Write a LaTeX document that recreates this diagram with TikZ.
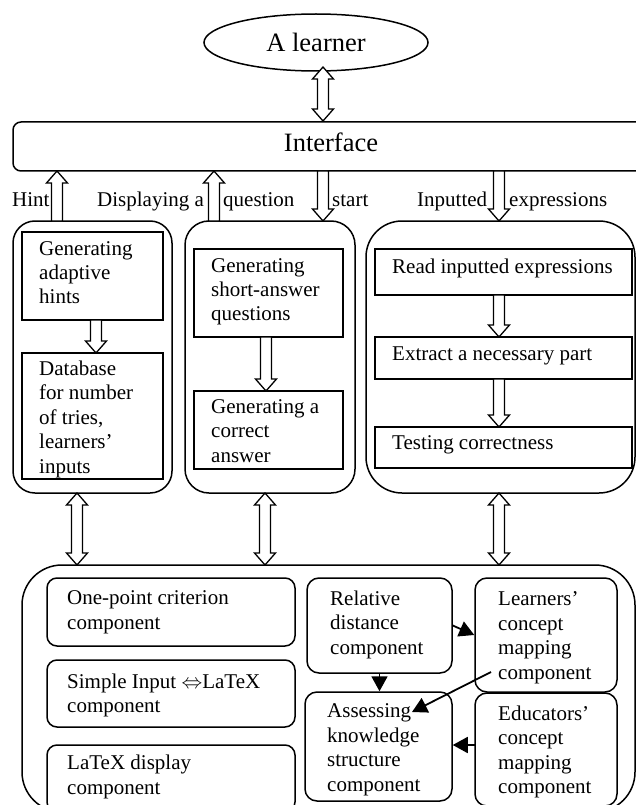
\documentclass[tikz,border=0pt]{standalone}
\usepackage{fontspec}
\setmainfont{Liberation Serif}
\usetikzlibrary{shapes.geometric,arrows.meta,calc,fit}
\newcommand\blkone[2]{%
  \draw[blk] let \p1=(#1), \p2=(#2), \n1={sign(\y2-\y1)} in
    ({\x1-5.5pt},\y1) -- ({\x1-5.5pt},{\y2-(\n1)*12pt}) -- ({\x1-10.5pt},{\y2-(\n1)*12pt})
    -- (\x1,\y2) -- ({\x1+10.5pt},{\y2-(\n1)*12pt}) -- ({\x1+5.5pt},{\y2-(\n1)*12pt})
    -- ({\x1+5.5pt},\y1) -- cycle;}
\newcommand\blktwo[2]{%
  \draw[blk] let \p1=(#1), \p2=(#2), \n1={sign(\y2-\y1)} in
    (\x1,\y1) -- ({\x1+10.5pt},{\y1+(\n1)*12pt}) -- ({\x1+5.5pt},{\y1+(\n1)*12pt})
    -- ({\x1+5.5pt},{\y2-(\n1)*12pt}) -- ({\x1+10.5pt},{\y2-(\n1)*12pt}) -- (\x1,\y2)
    -- ({\x1-10.5pt},{\y2-(\n1)*12pt}) -- ({\x1-5.5pt},{\y2-(\n1)*12pt})
    -- ({\x1-5.5pt},{\y1+(\n1)*12pt}) -- ({\x1-10.5pt},{\y1+(\n1)*12pt}) -- cycle;}
\begin{document}
\begin{tikzpicture}[x=1pt,y=-1pt,
  sq/.style={draw,line width=1.5pt,inner sep=0pt},
  rd/.style={sq,rounded corners=#1},
  txt/.style={font=\fontsize{21}{24}\selectfont,align=left,inner sep=0pt,anchor=base west},
  txtb/.style={font=\fontsize{21}{24.5}\selectfont,align=left,inner sep=0pt,anchor=base west},
  blk/.style={draw,fill=white,line width=1.3pt,line join=miter},
  arr/.style={line width=1.8pt,-{Triangle[length=15pt,width=16pt]}}]
\useasboundingbox (0,0) rectangle (636,805);
\clip (0,0) rectangle (636,805);

% top
\node[ellipse,draw,line width=1.5pt,minimum width=224pt,minimum height=57pt,inner sep=0pt,
  font=\fontsize{26.5}{30}\selectfont] (learner) at (316,42.5) {A learner};
\node[rd=8pt,fit={(13,122) (680,171)}] (iface) {};
\node[font=\fontsize{26.5}{30}\selectfont,inner sep=0pt,anchor=base] (ifacet) at (331,152) {Interface};

% three middle groups
\node[rd=22pt,fit={(13,221) (172,493)}] (box1) {};
\node[rd=24pt,fit={(185,221) (355,493)}] (box2) {};
\node[rd=36pt,fit={(366,221) (635,493)}] (box3) {};

\node[sq,fit={(22,232) (163,320)}] (a1) {};
\node[sq,fit={(22,353) (163,479)}] (a2) {};
\node[sq,fit={(194,249) (343,337)}] (b1) {};
\node[sq,fit={(194,391) (343,469)}] (b2) {};
\node[sq,fit={(375,249) (632,295)}] (c1) {};
\node[sq,fit={(375,337) (632,379)}] (c2) {};
\node[sq,fit={(375,427) (632,468)}] (c3) {};

% bottom group
\node[rd=40pt,fit={(22,565) (635,812)}] (bot) {};
\node[rd=10pt,fit={(47,578) (295,646)}] (p1) {};
\node[rd=10pt,fit={(47,660) (295,727)}] (p2) {};
\node[rd=10pt,fit={(47,745) (295,812)}] (p3) {};
\node[rd=12pt,fit={(307,578) (452,673)}] (rel) {};
\node[rd=12pt,fit={(475,578) (617,692)}] (lrn) {};
\node[rd=12pt,fit={(305,692) (452,801)}] (ass) {};
\node[rd=12pt,fit={(475,693) (617,806)}] (edu) {};

% block arrows
\coordinate (l1) at (323,67);  \coordinate (l2) at (323,121);
\blktwo{l1}{l2}
\coordinate (h1) at (57,221);  \coordinate (h2) at (57,171);
\blkone{h1}{h2}
\coordinate (d1) at (214,221); \coordinate (d2) at (214,171);
\blkone{d1}{d2}
\coordinate (s1) at (323,171); \coordinate (s2) at (323,221);
\blkone{s1}{s2}
\coordinate (i1) at (499,171); \coordinate (i2) at (499,221);
\blkone{i1}{i2}
\coordinate (a1s) at (96,320);  \coordinate (a2n) at (96,353);
\blkone{a1s}{a2n}
\coordinate (b1s) at (266,337); \coordinate (b2n) at (266,391);
\blkone{b1s}{b2n}
\coordinate (c1s) at (499,295); \coordinate (c2n) at (499,337);
\blkone{c1s}{c2n}
\coordinate (c2s) at (499,379); \coordinate (c3n) at (499,427);
\blkone{c2s}{c3n}
\coordinate (v1a) at (77,493);  \coordinate (v1b) at (77,565);
\blktwo{v1a}{v1b}
\coordinate (v2a) at (265,493); \coordinate (v2b) at (265,565);
\blktwo{v2a}{v2b}
\coordinate (v3a) at (499,493); \coordinate (v3b) at (499,565);
\blktwo{v3a}{v3b}

% labels
\node[txt] (lh) at (12,206) {Hint};
\node[txt] (ld) at (97,206) {Displaying a};
\node[txt] (lq) at (223,206) {question};
\node[txt] (ls) at (332,206) {start};
\node[txt] (li) at (417,206) {Inputted};
\node[txt] (le) at (509,206) {expressions};

% texts (anchored at the baseline of the last line)
\node[txt] (a1t) at (39,303) {Generating\\adaptive\\hints};
\node[txtb] (a2t) at (39,473) {Database\\for number\\of tries,\\learners’\\inputs};
\node[txt] (b1t) at (211,320) {Generating\\short-answer\\questions};
\node[txtb] (b2t) at (211,462) {Generating a\\correct\\answer};
\node[txt] (c1t) at (392,273) {Read inputted expressions};
\node[txt] (c2t) at (392,360) {Extract a necessary part};
\node[txt] (c3t) at (392,449) {Testing correctness};

\node[txtb] (p1t) at (67,629) {One-point criterion\\component};
\node[txtb] (p2t) at (67,712.5) {Simple Input $\Leftrightarrow$LaTeX\\component};
\node[txtb] (p3t) at (67,794) {LaTeX display\\component};
\node[txtb] (relt) at (330,654) {Relative\\distance\\component};
\node[txtb] (lrnt) at (498,679) {Learners’\\concept\\mapping\\component};
\node[txtb] (asst) at (327,791) {Assessing\\knowledge\\structure\\component};
\node[txtb] (edut) at (498,793.5) {Educators’\\concept\\mapping\\component};

% thin arrows
\draw[arr] (rel.east) -- (lrn.west);
\draw[arr] (rel.south) -- (rel.south |- ass.north);
\coordinate (lfrom) at (491,672); \coordinate (ato) at (412,712);
\draw[arr] (lfrom) -- (ato);
\coordinate (efrom) at (475,745);
\draw[arr] (efrom) -- (efrom -| ass.east);
\end{tikzpicture}
\end{document}
